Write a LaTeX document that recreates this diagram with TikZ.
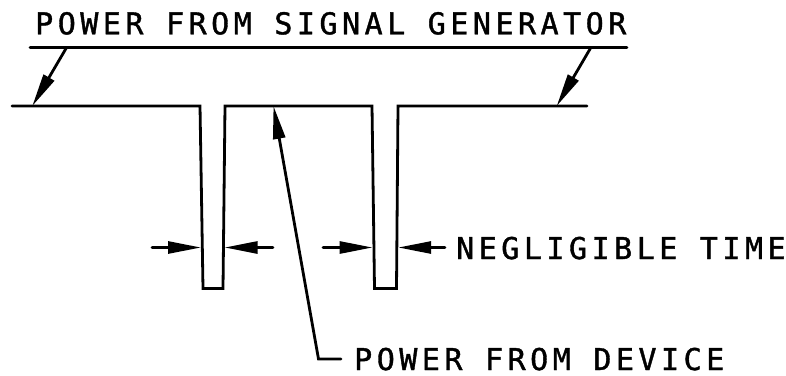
\documentclass[tikz,border=0pt]{standalone}
\usepackage{fontspec}
\usetikzlibrary{arrows.meta}
\newfontfamily\lblfont[LetterSpace=15,FakeBold=1.3]{DejaVu Sans Mono}
\begin{document}
\begin{tikzpicture}[x=1pt,y=-1pt,
  ln/.style={line width=2.8pt, line cap=round, line join=miter},
  arr/.style={ln, -{Triangle[length=33pt,width=12pt]}},
  lbl/.style={font=\lblfont\fontsize{30pt}{30pt}\selectfont, inner sep=0pt, anchor=base west}]
\useasboundingbox (0,0) rectangle (786,375);
% labels
\node[lbl] (title) at (35,34.3) {POWER FROM SIGNAL GENERATOR};
\node[lbl] (neg) at (456,259) {NEGLIGIBLE TIME};
\node[lbl] (dev) at (354,370) {POWER FROM DEVICE};
% signal
\coordinate (sL) at (12,106);
\coordinate (p1a) at (200,106);
\coordinate (p1b) at (203,288.5);
\coordinate (p1c) at (223,288.5);
\coordinate (p1d) at (225,106);
\coordinate (p2a) at (372,106);
\coordinate (p2b) at (374.5,288.5);
\coordinate (p2c) at (396.5,288.5);
\coordinate (p2d) at (398,106);
\coordinate (sR) at (587,106);
\draw[ln] (sL) -- (p1a) -- (p1b) -- (p1c) -- (p1d) -- (p2a) -- (p2b) -- (p2c) -- (p2d) -- (sR);
% title underline and leaders
\coordinate (ulL) at (30,47.3);
\coordinate (ulR) at (627,47.3);
\draw[ln] (ulL) -- (ulR);
\coordinate (ldL) at (66.7,47.3);
\coordinate (tipL) at (32.3,106);
\coordinate (ldR) at (591,47.3);
\coordinate (tipR) at (556.7,106);
\draw[arr] (ldL) -- (tipL);
\draw[arr] (ldR) -- (tipR);
% device leader
\coordinate (dv1) at (341,359);
\coordinate (dv2) at (318.5,359);
\coordinate (tipM) at (273.5,106);
\draw[arr] (dv1) -- (dv2) -- (tipM);
% negligible time dimension arrows
\coordinate (a1s) at (152,247.5);
\coordinate (a1t) at (201,247.5);
\coordinate (a2s) at (273,247.5);
\coordinate (a2t) at (224.6,247.5);
\coordinate (a3s) at (323,247.5);
\coordinate (a3t) at (372.6,247.5);
\coordinate (a4s) at (445,247.5);
\coordinate (a4t) at (398.2,247.5);
\draw[arr] (a1s) -- (a1t);
\draw[arr] (a2s) -- (a2t);
\draw[arr] (a3s) -- (a3t);
\draw[arr] (a4s) -- (a4t);
\end{tikzpicture}
\end{document}
